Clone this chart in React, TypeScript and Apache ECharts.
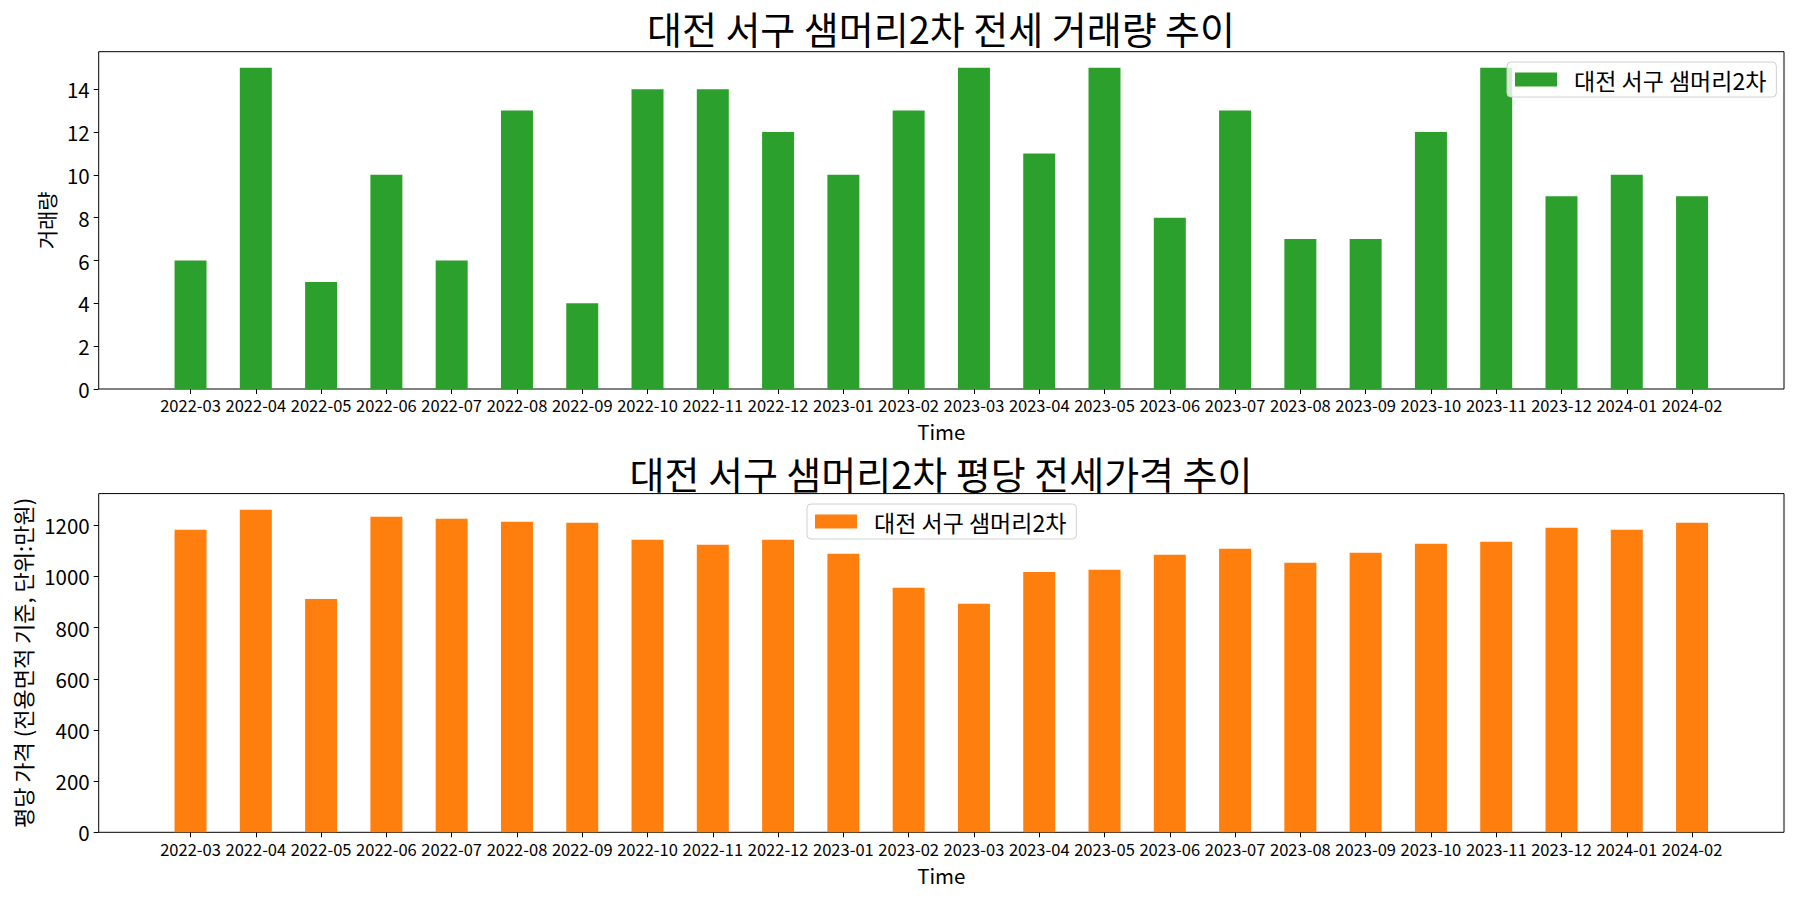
import React, { useEffect, useRef } from "react";
import * as echarts from "echarts";

const months = [
  "2022-03", "2022-04", "2022-05", "2022-06", "2022-07", "2022-08", "2022-09", "2022-10",
  "2022-11", "2022-12", "2023-01", "2023-02", "2023-03", "2023-04", "2023-05", "2023-06",
  "2023-07", "2023-08", "2023-09", "2023-10", "2023-11", "2023-12", "2024-01", "2024-02",
];
const volume = [6, 15, 5, 10, 6, 13, 4, 14, 14, 12, 10, 13, 15, 11, 15, 8, 13, 7, 7, 12, 15, 9, 10, 9];
const price = [1183, 1261, 912, 1234, 1226, 1214, 1210, 1144, 1124, 1144, 1089, 956, 893, 1018, 1026, 1085, 1108, 1054, 1093, 1128, 1136, 1191, 1183, 1210];
const volumeTicks = [0, 2, 4, 6, 8, 10, 12, 14];
const priceTicks = [0, 200, 400, 600, 800, 1000, 1200];

const seriesName = "대전 서구 샘머리2차";
const title1 = "대전 서구 샘머리2차 전세 거래량 추이";
const title2 = "대전 서구 샘머리2차 평당 전세가격 추이";
const yName1 = "거래량";
const yName2 = "평당 가격 (전용면적 기준, 단위:만원)";
const xName = "Time";

const FONT = "'Noto Sans CJK KR', 'Noto Sans', sans-serif";
const GREEN = "#2ca02c";
const ORANGE = "#ff7f0e";

export default function App() {
  const ref = useRef<HTMLDivElement>(null);
  useEffect(() => {
    if (!ref.current) return;
    const chart = echarts.init(ref.current, undefined, { renderer: "svg" });
    const vMax = Math.max(...volume) * 1.05;
    const pMax = Math.max(...price) * 1.05;

    const frameLeft = 98.7, frameW = 1685.3;
    const innerLeft = 157.9, innerW = 1566.8;
    const top1 = 51.7, h1 = 337.3;
    const top2 = 493.6, h2 = 338.7;

    const frameY = (max: number, ticks: number[], name: string, gap: number, size: number, gridIndex: number) => ({
      type: "value",
      gridIndex,
      min: 0,
      max,
      axisLine: { show: false },
      axisTick: { show: true, length: 5, customValues: ticks, lineStyle: { color: "#000" } },
      axisLabel: {
        fontSize: 20.5, color: "#000", margin: 9, fontFamily: FONT, customValues: ticks,
        formatter: (v: number) => String(v),
      },
      splitLine: { show: false },
      name,
      nameLocation: "middle",
      nameGap: gap,
      nameTextStyle: { fontSize: size, color: "#000", fontFamily: FONT },
    });
    const hiddenY = (max: number, gridIndex: number) => ({
      type: "value", gridIndex, min: 0, max, show: false,
    });
    const catX = (gridIndex: number) => ({
      type: "category",
      gridIndex,
      data: months,
      boundaryGap: true,
      axisLine: { show: false },
      axisTick: { show: true, alignWithLabel: true, length: 5, lineStyle: { color: "#000" } },
      axisLabel: { fontSize: 16.5, color: "#000", margin: 8, interval: 0, fontFamily: FONT },
      name: xName,
      nameLocation: "middle",
      nameGap: 32,
      nameTextStyle: { fontSize: 20.5, color: "#000", fontFamily: FONT },
    });
    const hiddenX = (gridIndex: number) => ({ type: "value", gridIndex, min: 0, max: 1, show: false });

    const legendBase = {
      orient: "horizontal",
      selectedMode: false,
      icon: "rect",
      itemWidth: 42,
      itemHeight: 14,
      padding: [6, 10, 6, 8],
      borderColor: "#d0d0d0",
      borderWidth: 1,
      borderRadius: 4,
      backgroundColor: "rgba(255,255,255,0.8)",
      textStyle: { fontSize: 23, color: "#000", fontFamily: FONT, padding: [0, 0, 0, 12] },
    };

    chart.setOption({
      animation: false,
      textStyle: { fontFamily: FONT },
      grid: [
        { left: frameLeft, top: top1, width: frameW, height: h1, show: true, borderColor: "#000", borderWidth: 1, backgroundColor: "transparent" },
        { left: innerLeft, top: top1, width: innerW, height: h1 },
        { left: frameLeft, top: top2, width: frameW, height: h2, show: true, borderColor: "#000", borderWidth: 1, backgroundColor: "transparent" },
        { left: innerLeft, top: top2, width: innerW, height: h2 },
      ],
      xAxis: [hiddenX(0), catX(1), hiddenX(2), catX(3)],
      yAxis: [
        frameY(vMax, volumeTicks, yName1, 40, 21, 0),
        hiddenY(vMax, 1),
        frameY(pMax, priceTicks, yName2, 65, 22, 2),
        hiddenY(pMax, 3),
      ],
      legend: [
        { ...legendBase, left: 1507, top: 62, data: [{ name: seriesName, itemStyle: { color: GREEN } }] },
        { ...legendBase, left: 807, top: 504, data: [{ name: seriesName, itemStyle: { color: ORANGE } }] },
      ],
      series: [
        { type: "bar", name: seriesName, xAxisIndex: 1, yAxisIndex: 1, data: volume, barWidth: "49%", itemStyle: { color: GREEN } },
        { type: "bar", name: seriesName, xAxisIndex: 3, yAxisIndex: 3, data: price, barWidth: "49%", itemStyle: { color: ORANGE } },
      ],
      graphic: [
        { type: "text", x: 941, y: 27, style: { text: title1, font: `38px ${FONT}`, fill: "#000", align: "center", verticalAlign: "middle" } },
        { type: "text", x: 941, y: 472, style: { text: title2, font: `38px ${FONT}`, fill: "#000", align: "center", verticalAlign: "middle" } },
      ],
    });
    return () => chart.dispose();
  }, []);
  return (
    <div
      ref={ref}
      style={{ position: "absolute", left: 0, top: 0, width: 1800, height: 900, background: "#fff" }}
    />
  );
}
